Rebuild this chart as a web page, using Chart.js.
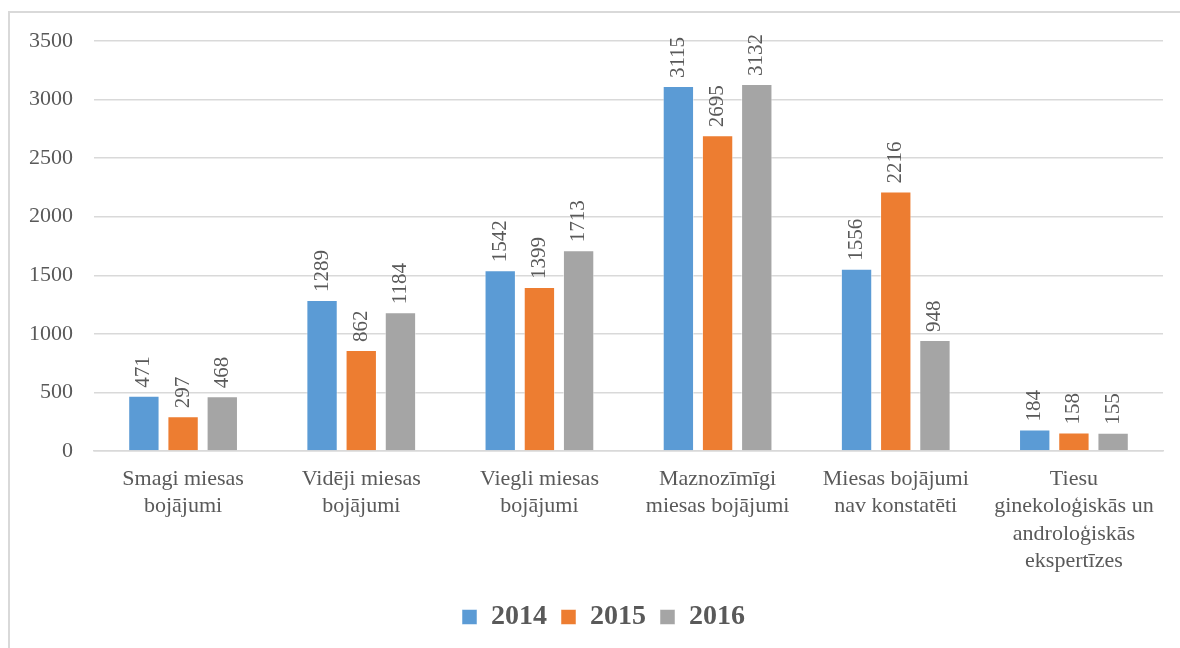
<!DOCTYPE html>
<html>
<head>
<meta charset="utf-8">
<script src="https://cdn.jsdelivr.net/npm/chart.js@4/dist/chart.umd.min.js"></script>
<style>
  html, body { margin: 0; padding: 0; background: #fff; }
  #frame { position: absolute; left: 8px; top: 11px; width: 1300px; height: 700px;
           border-top: 2px solid #d9d9d9; border-left: 2px solid #d9d9d9; }
  #wrap { position: absolute; left: 0; top: 0; width: 1180px; height: 648px; }
</style>
</head>
<body>
<div id="frame"></div>
<div id="wrap"><canvas id="chart"></canvas></div>
<script>
// categories and values
const categories = [
  ['Smagi miesas', 'bojājumi'],
  ['Vidēji miesas', 'bojājumi'],
  ['Viegli miesas', 'bojājumi'],
  ['Maznozīmīgi', 'miesas bojājumi'],
  ['Miesas bojājumi', 'nav konstatēti'],
  ['Tiesu', 'ginekoloģiskās un', 'androloģiskās', 'ekspertīzes']
];

const years = ['2014', '2015', '2016'];
const values2014 = [471, 1289, 1542, 3115, 1556, 184];
const values2015 = [297, 862, 1399, 2695, 2216, 158];
const values2016 = [468, 1184, 1713, 3132, 948, 155];
const yTicks = [0, 500, 1000, 1500, 2000, 2500, 3000, 3500];

const colors = ['#5B9BD5', '#ED7D31', '#A5A5A5'];
const textColor = '#595959';
const serif = '"Liberation Serif", "Times New Roman", serif';

// rotated value labels above each bar
const barLabels = {
  id: 'barLabels',
  afterDatasetsDraw(chart) {
    const ctx = chart.ctx;
    ctx.save();
    ctx.font = '21px ' + serif;
    ctx.fillStyle = textColor;
    ctx.textAlign = 'left';
    ctx.textBaseline = 'middle';
    chart.data.datasets.forEach((ds, i) => {
      chart.getDatasetMeta(i).data.forEach((bar, j) => {
        ctx.save();
        ctx.translate(bar.x, bar.y - 8);
        ctx.rotate(-Math.PI / 2);
        ctx.fillText(String(ds.data[j]), 0, 0);
        ctx.restore();
      });
    });
    ctx.restore();
  }
};

// the legend in the original sits a little right of centre
const legendShift = {
  id: 'legendShift',
  afterLayout(chart) {
    if (chart.legend) {
      chart.legend.left += 22;
      chart.legend.right += 22;
    }
  }
};

const seriesValues = [values2014, values2015, values2016];

new Chart(document.getElementById('chart'), {
  type: 'bar',
  data: {
    labels: categories,
    datasets: years.map((y, i) => ({
      label: y,
      data: seriesValues[i],
      backgroundColor: colors[i],
      borderColor: 'rgba(255,255,255,0.5)',
      borderWidth: 1,
      categoryPercentage: 0.66,
      barPercentage: 0.8
    }))
  },
  options: {
    responsive: true,
    maintainAspectRatio: false,
    animation: false,
    layout: { padding: { left: 0, right: 17, top: 41, bottom: 7 } },
    plugins: {
      tooltip: { enabled: false },
      legend: {
        position: 'bottom',
        labels: {
          color: textColor,
          font: { family: serif, size: 28, weight: 'bold' },
          boxWidth: 15,
          boxHeight: 15,
          padding: 14
        }
      }
    },
    scales: {
      x: {
        grid: { display: false, drawTicks: false },
        border: { color: '#d9d9d9', width: 1.5 },
        ticks: {
          color: textColor,
          font: { family: serif, size: 22, lineHeight: 1.25 },
          padding: 14,
          maxRotation: 0,
          autoSkip: false
        }
      },
      y: {
        min: 0,
        max: 3500,
        afterFit(scale) { scale.width = 94; },
        afterBuildTicks(scale) { scale.ticks = yTicks.map(v => ({ value: v })); },
        grid: { color: '#d9d9d9', lineWidth: 1.5, drawTicks: false },
        border: { display: false },
        ticks: {
          color: textColor,
          font: { family: serif, size: 22 },
          padding: 21,
          callback: v => String(v)
        }
      }
    }
  },
  plugins: [barLabels, legendShift]
});
</script>
</body>
</html>
